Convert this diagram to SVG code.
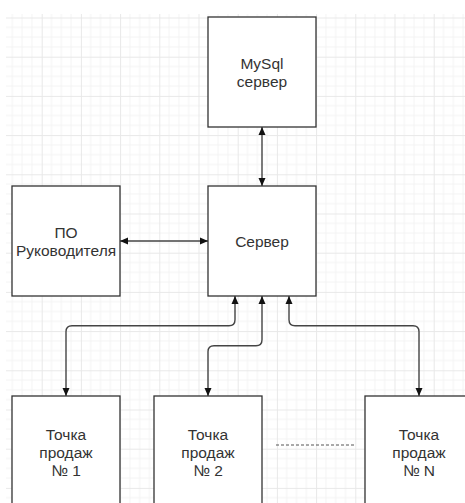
<svg xmlns="http://www.w3.org/2000/svg" width="465" height="503" viewBox="0 0 465 503">
<defs>
<pattern id="grid" patternUnits="userSpaceOnUse" x="2.5" y="17.5" width="39.2" height="39.2">
<path d="M9.8,0V39.2M19.6,0V39.2M29.4,0V39.2M0,9.8H39.2M0,19.6H39.2M0,29.4H39.2" stroke="#f3f3f3" stroke-width="1" fill="none"/>
<path d="M0.5,0V39.2M0,0.5H39.2" stroke="#e8e8e8" stroke-width="1" fill="none"/>
</pattern>
<marker id="arr" viewBox="0 0 8 8" refX="8" refY="4" markerWidth="8" markerHeight="8" markerUnits="userSpaceOnUse" orient="auto-start-reverse">
<path d="M0,0.5 L8,4 L0,7.5 z" fill="#111"/>
</marker>
</defs>
<style>
.box{fill:#fff;stroke:#333;stroke-width:1.3}
.lbl{font-family:"Liberation Sans",Arial,sans-serif;font-size:15.5px;fill:#333;text-anchor:middle}
.con{fill:none;stroke:#444;stroke-width:1.4;marker-start:url(#arr);marker-end:url(#arr)}
</style>
<rect x="0" y="0" width="465" height="503" fill="#fff"/>
<rect x="6" y="14" width="459" height="489" fill="url(#grid)"/>
<g id="connectors">
<path class="con" d="M262,127 V186"/>
<path class="con" d="M120,241 H208"/>
<path class="con" d="M235,296 V319.7 Q235,325.7 229,325.7 H72 Q66,325.7 66,331.7 V396"/>
<path class="con" d="M262,296 V339.7 Q262,345.7 256,345.7 H214 Q208,345.7 208,351.7 V396"/>
<path class="con" d="M289,296 V319.7 Q289,325.7 295,325.7 H413 Q419,325.7 419,331.7 V396"/>
<path d="M276,445 H356" fill="none" stroke="#555" stroke-width="1" stroke-dasharray="3,2"/>
</g>
<g id="mysql">
<rect class="box" x="208" y="17" width="108" height="110"/>
<text class="lbl" x="262" y="68.5">MySql</text>
<text class="lbl" x="262" y="87">сервер</text>
</g>
<g id="po">
<rect class="box" x="12" y="186" width="108" height="110"/>
<text class="lbl" x="66" y="237.5">ПО</text>
<text class="lbl" x="66" y="256">Руководителя</text>
</g>
<g id="server">
<rect class="box" x="208" y="186" width="108" height="110"/>
<text class="lbl" x="262" y="247">Сервер</text>
</g>
<g id="point1">
<rect class="box" x="12" y="396" width="108" height="110"/>
<text class="lbl" x="66" y="440">Точка</text>
<text class="lbl" x="66" y="458">продаж</text>
<text class="lbl" x="66" y="476">№ 1</text>
</g>
<g id="point2">
<rect class="box" x="154" y="396" width="108" height="110"/>
<text class="lbl" x="208" y="440">Точка</text>
<text class="lbl" x="208" y="458">продаж</text>
<text class="lbl" x="208" y="476">№ 2</text>
</g>
<g id="pointN">
<rect class="box" x="365" y="396" width="108" height="110"/>
<text class="lbl" x="419" y="440">Точка</text>
<text class="lbl" x="419" y="458">продаж</text>
<text class="lbl" x="419" y="476">№ N</text>
</g>
</svg>
